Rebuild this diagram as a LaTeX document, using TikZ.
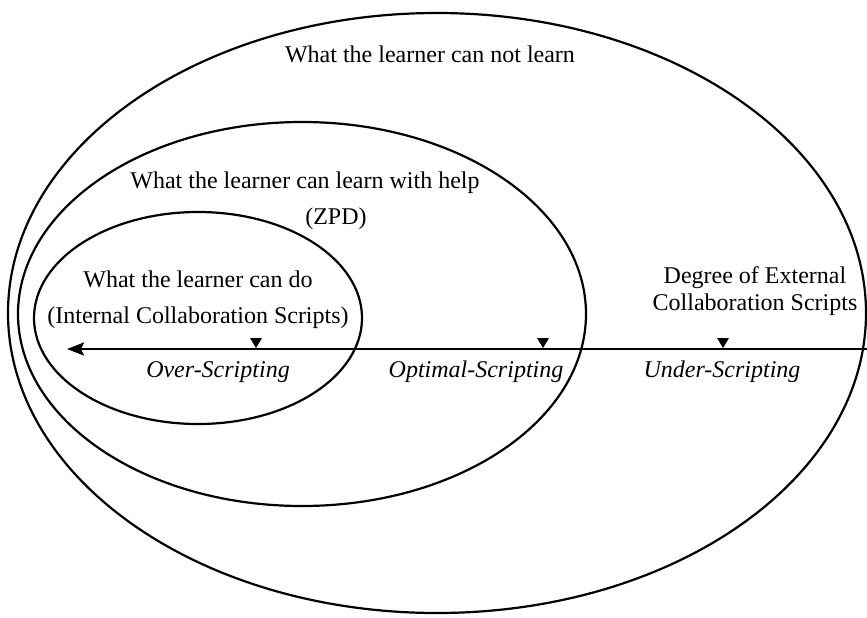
\documentclass[tikz,border=0pt]{standalone}
\usepackage{fontspec}
\setmainfont{Liberation Serif}
\usetikzlibrary{arrows.meta}

\begin{document}
\begin{tikzpicture}[x=1pt,y=-1pt,
        zone/.style={line width=2.2pt},
        lbl/.style={font=\fontsize{24}{28}\selectfont, inner sep=0pt},
        level/.style={lbl, font=\fontsize{24}{28}\selectfont\itshape}]
        \useasboundingbox (0,0) rectangle (867,618);

        % the three nested zones
        \draw[zone] (437,313) ellipse [x radius=429, y radius=300];
        \draw[zone] (302,314) ellipse [x radius=284, y radius=192];
        \draw[zone] (198,318) ellipse [x radius=164, y radius=106];

        \node[lbl] (cannot) at (430,54) {What the learner can not learn};
        \node[lbl] (help) at (305,183) {What the learner can learn with help};
        \node[lbl] (zpd) at (336,219) {(ZPD)};
        \node[lbl] (cando) at (198,279) {What the learner can do};
        \node[lbl] (internal) at (198,318) {(Internal Collaboration Scripts)};
        \node[lbl, align=center, font=\fontsize{24}{27}\selectfont] (degree) at (755,291)
            {Degree of External\\Collaboration Scripts};

        % scripting axis
        \coordinate (axisR) at (867,349);
        \coordinate (axisL) at (67,349);
        \draw[line width=2.4pt, -{Stealth[length=17pt,width=13pt,inset=3pt]}] (axisR) -- (axisL);

        \foreach \x/\name in {256/over, 543/optimal, 723/under} {
            \coordinate (\name) at (\x,349);
            \fill (\name) ++(0,-1) -- ++(-6,-10) -- ++(12,0) -- cycle;
        }

        \node[level] (overlbl) at (218,372) {Over-Scripting};
        \node[level] (optlbl) at (476,372) {Optimal-Scripting};
        \node[level] (underlbl) at (722,372) {Under-Scripting};
    \end{tikzpicture}
\end{document}
